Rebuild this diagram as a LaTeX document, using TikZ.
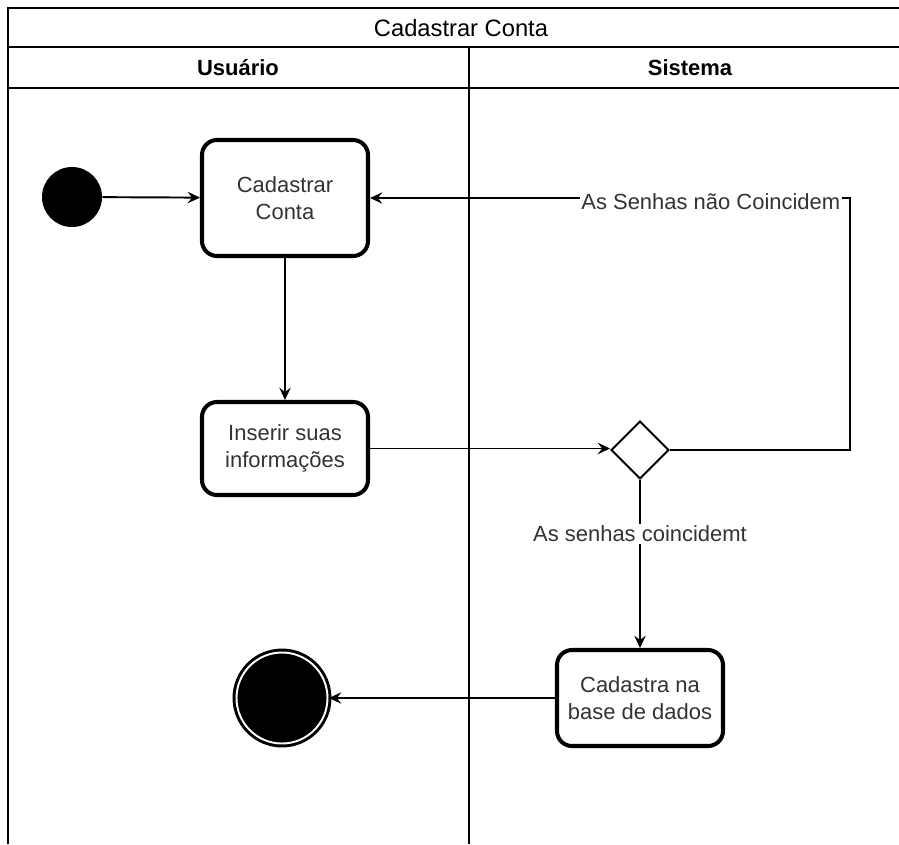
\documentclass[tikz,border=0pt]{standalone}
\usepackage{fontspec}
\setmainfont{Liberation Sans}
\usetikzlibrary{shapes.geometric,arrows.meta}
\definecolor{texto}{HTML}{333333}

\begin{document}
\begin{tikzpicture}[
  font=\fontsize{12.5}{15.5}\selectfont,
  acao/.style={draw, rounded corners=0.3cm, line width=2.3pt, minimum width=3.32cm, align=center, text=texto, fill=white},
  fluxo/.style={line width=1.1pt, -{Stealth[length=7pt,width=6.5pt,inset=2.5pt]}},
  rotulo/.style={fill=white, text=texto, inner sep=1pt},
  raia/.style={line width=1.1pt}
]
  \useasboundingbox (0,0) rectangle (17.98,-16.88);
  % raias
  \draw[raia] (0.16,-16.88) -- (0.16,-0.16) -- (17.98,-0.16);
  \draw[raia] (0.16,-0.94) -- (17.98,-0.94);
  \draw[raia] (0.16,-1.76) -- (17.98,-1.76);
  \draw[raia] (9.38,-0.94) -- (9.38,-16.88);
  \node[font=\fontsize{13.5}{16}\selectfont] (titulo) at (9.22,-0.56) {Cadastrar Conta};
  \node (usuario) at (4.76,-1.36) {\bfseries Usuário};
  \node (sistema) at (13.8,-1.36) {\bfseries Sistema};

  % nos
  \node[circle, fill=black, minimum size=1.2cm, inner sep=0] (inicio) at (1.44,-3.94) {};
  \node[acao, minimum height=2.32cm] (cad) at (5.7,-3.96) {Cadastrar\\Conta};
  \node[acao, minimum height=1.86cm] (ins) at (5.7,-8.97) {Inserir suas\\informações};
  \node[diamond, draw, line width=1.1pt, minimum width=1.16cm, minimum height=1.16cm, inner sep=0] (dec) at (12.8,-9.0) {};
  \node[acao, minimum height=1.92cm] (base) at (12.8,-13.96) {Cadastra na\\base de dados};
  \node[circle, fill=black, draw=black, line width=1.7pt, double=white, double distance=1.1pt, minimum size=1.82cm, inner sep=0] (fim) at (5.64,-13.96) {};
  \coordinate (volta) at (17.0,-3.96);

  % fluxos
  \draw[fluxo] (inicio) -- (cad);
  \draw[fluxo] (cad) -- (ins);
  \draw[fluxo] (ins.east) -- (ins.east -| dec.west);
  \draw[fluxo] (dec.east) -| (volta) -- (cad.east) node[rotulo, pos=0.29, yshift=-0.08cm] {As Senhas não Coincidem};
  \draw[fluxo] (dec) -- (base) node[rotulo, pos=0.32] {As senhas coincidemt};
  \draw[fluxo] (base) -- (fim);
\end{tikzpicture}
\end{document}
